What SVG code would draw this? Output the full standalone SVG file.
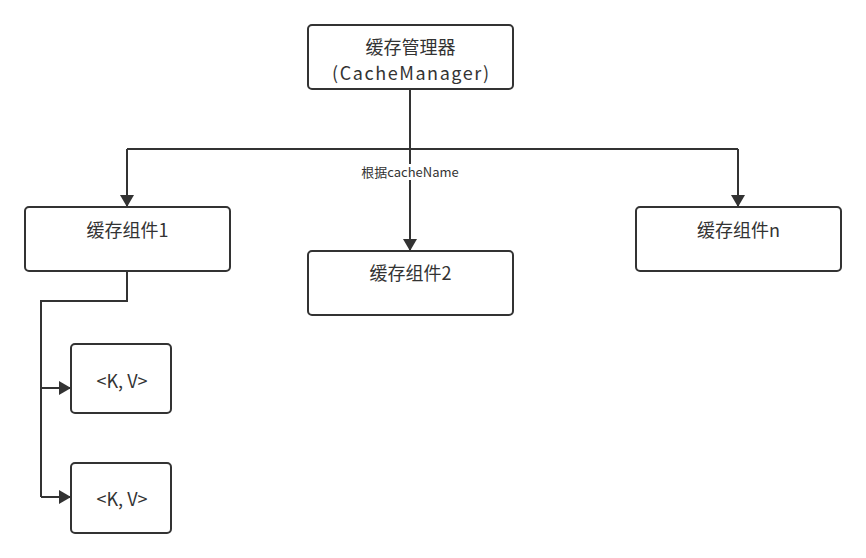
<svg xmlns="http://www.w3.org/2000/svg" width="866" height="558" viewBox="0 0 866 558">
<defs>
<style>
.box{fill:#fff;stroke:#333;stroke-width:2}
.t{font-family:"Noto Sans CJK SC","Noto Sans",sans-serif;font-size:18px;fill:#333;text-anchor:middle}
.kv{font-family:"Noto Sans CJK SC","Noto Sans",sans-serif;font-size:18px;fill:#333;text-anchor:middle}
.lbl{font-family:"Noto Sans CJK SC","Noto Sans",sans-serif;font-size:13px;fill:#333;text-anchor:middle}
.c{fill:none;stroke:#333;stroke-width:2}
</style>
<marker id="a" viewBox="0 0 12 14" refX="12" refY="7" markerWidth="12" markerHeight="14" markerUnits="userSpaceOnUse" orient="auto">
<path d="M0,0 L12,7 L0,14 z" fill="#333"/>
</marker>
</defs>
<rect width="866" height="558" fill="#fff"/>
<g id="connectors">
<path class="c" d="M410,89 V149"/>
<path class="c" d="M127,149 H738"/>
<path class="c" d="M127,149 V207" marker-end="url(#a)"/>
<path class="c" d="M738,149 V207" marker-end="url(#a)"/>
<path class="c" d="M410,149 V251" marker-end="url(#a)"/>
<rect x="359" y="164" width="101" height="16" fill="#fff"/>
<text class="lbl" x="410" y="177">根据cacheName</text>
<path class="c" d="M127,271 V301 H41 V497"/>
<path class="c" d="M41,388 H71" marker-end="url(#a)"/>
<path class="c" d="M41,497 H71" marker-end="url(#a)"/>
</g>
<g id="cacheManager">
<rect class="box" x="308" y="25" width="205" height="64" rx="4"/>
<text class="t" x="410.5" y="54">缓存管理器</text>
<text class="t" x="410.5" y="80" textLength="157" lengthAdjust="spacing">(CacheManager)</text>
</g>
<g id="cache1">
<rect class="box" x="25" y="207" width="205" height="64" rx="4"/>
<text class="t" x="127.5" y="237">缓存组件1</text>
</g>
<g id="cache2">
<rect class="box" x="308" y="251" width="205" height="64" rx="4"/>
<text class="t" x="410.5" y="280">缓存组件2</text>
</g>
<g id="cacheN">
<rect class="box" x="636" y="207" width="205" height="64" rx="4"/>
<text class="t" x="738.5" y="237">缓存组件n</text>
</g>
<g id="kv1">
<rect class="box" x="71" y="344" width="100" height="69" rx="4"/>
<text class="kv" x="122" y="388">&lt;K, V&gt;</text>
</g>
<g id="kv2">
<rect class="box" x="71" y="463" width="100" height="70" rx="4"/>
<text class="kv" x="122" y="506">&lt;K, V&gt;</text>
</g>
</svg>
